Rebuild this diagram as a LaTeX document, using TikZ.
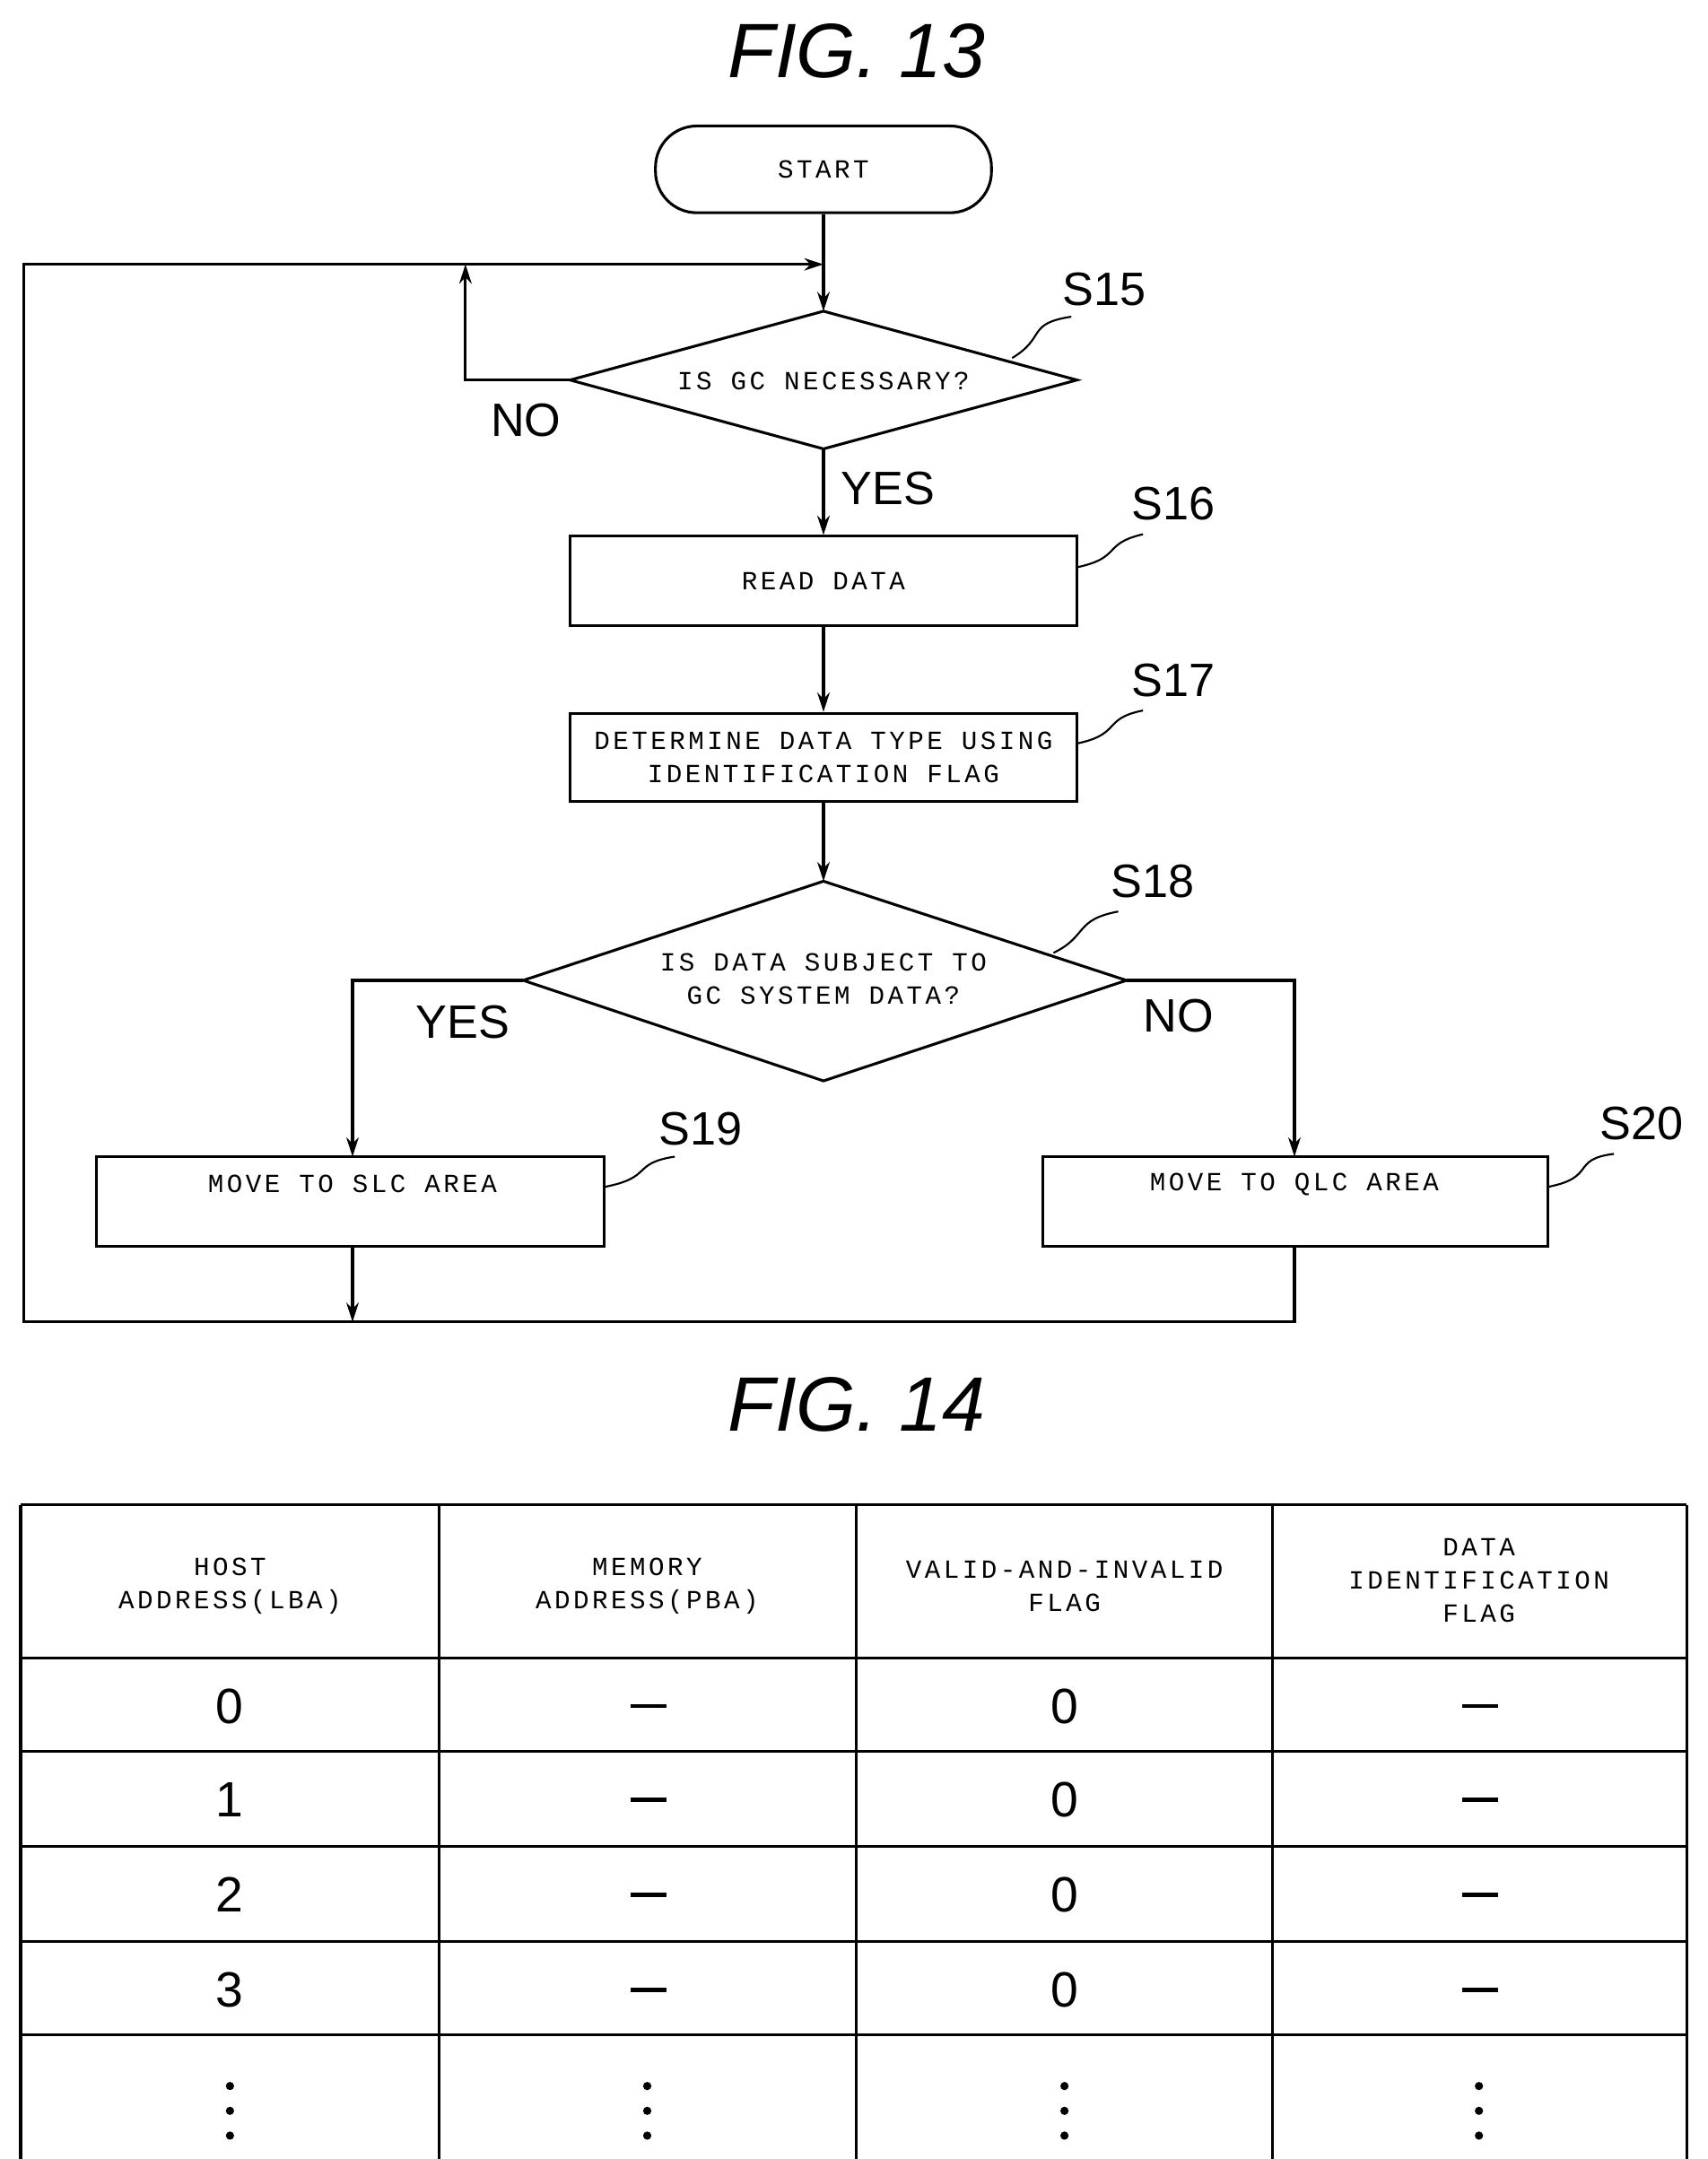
\documentclass[tikz,border=0pt]{standalone}
\usepackage{fontspec}
\setmainfont{Liberation Sans}
\newfontfamily\mono[LetterSpace=12]{Liberation Mono}
\usetikzlibrary{arrows.meta,shapes.geometric}
\begin{document}
\begin{tikzpicture}[x=1pt,y=-1pt,line width=2pt,
  box/.style={draw,rectangle,inner sep=0pt,font=\mono\fontsize{19}{24}\selectfont,align=center},
  lab/.style={font=\fontsize{34}{40}\selectfont},
  arr/.style={-{Stealth[length=14pt,width=9pt]}},
  sq/.style={line width=1.4pt},
  hd/.style={font=\mono\fontsize{19}{24}\selectfont,align=center},
  val/.style={font=\fontsize{36}{40}\selectfont}]
\useasboundingbox (0,0) rectangle (1240,1568);
\node[font=\itshape\fontsize{56}{60}\selectfont] (t13) at (622,37) {FIG. 13};
\node[box,rounded corners=30pt,minimum width=244pt,minimum height=63pt] (start) at (598,123) {START};
\path[draw] (414,276) coordinate (d1l) -- (598,226) coordinate (d1t) -- (782,276) coordinate (d1r) -- (598,326) coordinate (d1b) -- cycle;
\node[hd] (d1txt) at (598,277) {IS GC NECESSARY?};
\node[box,minimum width=368pt,minimum height=65pt] (s16) at (598,422) {READ DATA};
\node[box,minimum width=368pt,minimum height=64pt] (s17) at (598,550) {DETERMINE DATA TYPE USING\\IDENTIFICATION FLAG};
\path[draw] (380,712) coordinate (d2l) -- (598,640) coordinate (d2t) -- (818,712) coordinate (d2r) -- (598,785) coordinate (d2b) -- cycle;
\node[hd] (d2txt) at (598,711) {IS DATA SUBJECT TO\\GC SYSTEM DATA?};
\node[draw,minimum width=369pt,minimum height=65pt,inner sep=0pt] (s19) at (254.5,872.5) {};
\node[hd] (s19t) at (256,860) {MOVE TO SLC AREA};
\node[draw,minimum width=367pt,minimum height=65pt,inner sep=0pt] (s20) at (940.5,872.5) {};
\node[hd] (s20t) at (940,860) {MOVE TO QLC AREA};
\coordinate (j) at (598,192);
\coordinate (jn) at (338,192);
\coordinate (c1) at (256,960);
\coordinate (c2) at (940,960);
\coordinate (c3) at (17,960);
\coordinate (c4) at (17,192);
\draw[arr] (start.south) -- (d1t);
\draw[arr] (d1l) -- (338,276) -- (jn);
\draw[arr] (d1b) -- (s16.north);
\draw[arr] (s16.south) -- (s17.north);
\draw[arr] (s17.south) -- (d2t);
\draw[arr] (d2l) -- (256,712) -- (256,840);
\draw[arr] (d2r) -- (940,712) -- (940,840);
\draw[arr] (256,905) -- (c1);
\draw[arr] (940,905) -- (c2) -- (c3) -- (c4) -- (j);
\node[lab] (no1) at (382,305) {NO};
\node[lab] (yes1) at (645,355) {YES};
\node[lab] (yes2) at (336,742) {YES};
\node[lab] (no2) at (856,738) {NO};
\node[lab] (l15) at (802,210) {S15};
\node[lab] (l16) at (852,366) {S16};
\node[lab] (l17) at (852,494) {S17};
\node[lab] (l18) at (837,640) {S18};
\node[lab] (l19) at (509,820) {S19};
\node[lab] (l20) at (1192,816) {S20};
\draw[sq] (735,260) .. controls (760,245) and (745,235) .. (778,230);
\draw[sq] (782,412) .. controls (815,405) and (800,395) .. (830,388);
\draw[sq] (782,540) .. controls (815,533) and (800,522) .. (830,516);
\draw[sq] (765,692) .. controls (790,680) and (780,668) .. (812,662);
\draw[sq] (439,862) .. controls (475,855) and (458,845) .. (490,840);
\draw[sq] (1124,862) .. controls (1160,855) and (1140,842) .. (1172,838);
\node[font=\itshape\fontsize{56}{60}\selectfont] (t14) at (622,1020) {FIG. 14};
\foreach \x in {15,319,622,924,1225} \draw (\x,1093) -- (\x,1568);
\foreach \y in {1093,1204,1272,1341,1410,1478} \draw (15,\y) -- (1225,\y);
\node[hd] (h1) at (167,1152) {HOST\\ADDRESS(LBA)};
\node[hd] (h2) at (470,1152) {MEMORY\\ADDRESS(PBA)};
\node[hd] (h3) at (773,1152) {VALID-AND-INVALID\\FLAG};
\node[hd] (h4) at (1074,1148) {DATA\\IDENTIFICATION\\FLAG};
\foreach \r/\y in {0/1239,1/1307,2/1376,3/1445} {
  \node[val] at (167,\y) {\r};
  \draw[line width=3pt] (458,\y) -- (484,\y);
  \node[val] at (773,\y) {0};
  \draw[line width=3pt] (1062,\y) -- (1088,\y);
}
\foreach \x in {167,470,773,1074} \foreach \y in {1515,1533,1551} \fill (\x,\y) circle (3pt);
\end{tikzpicture}
\end{document}
